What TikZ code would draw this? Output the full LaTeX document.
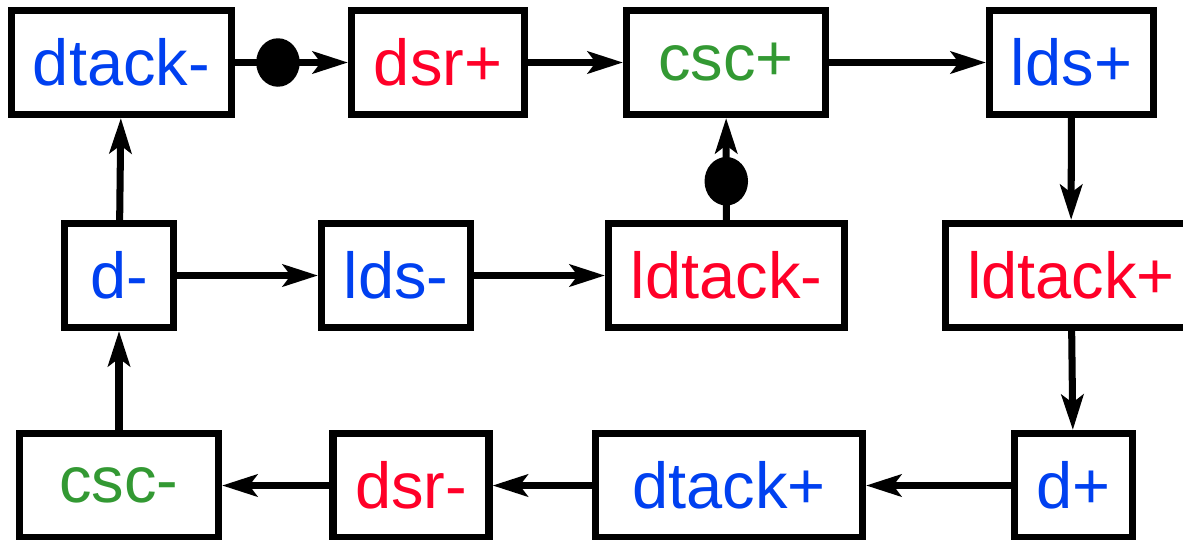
\documentclass[tikz,border=0pt]{standalone}
\usepackage{fontspec}
\setmainfont{Liberation Sans}
\usetikzlibrary{arrows.meta,shapes.geometric}
\definecolor{sigblue}{RGB}{0,64,240}
\definecolor{sigred}{RGB}{255,0,40}
\definecolor{siggreen}{RGB}{51,153,51}
\begin{document}
\begin{tikzpicture}
[x=0.02cm,y=-0.02cm,
  arrowDecorate/.style={-{Stealth[length=20pt,width=12.5pt,inset=4.5pt]},line width=4pt},%
  nodeDecorate/.style={shape=rectangle,draw,line width=4pt,fill=white,inner sep=0pt,
    minimum height=2.08cm,font=\fontsize{37}{41}\selectfont},%
  dotDecorate/.style={shape=ellipse,fill=black,inner sep=0pt,minimum width=0.87cm,minimum height=0.97cm}]
\useasboundingbox (0,0) rectangle (1183,539);
%% nodes or transitions
\foreach \nodename/\x/\y/\w/\col/\txt in {
  dtackm/121.5/62.5/220/sigblue/dtack-, dsrp/438/62.5/173/sigred/dsr+,
  cscp/726/62.5/199/siggreen/csc+, ldsp/1071.5/62.5/164/sigblue/lds+,
  dm/119/275.5/109/sigblue/d-, ldsm/396/275.5/149/sigblue/lds-,
  ldtackm/726.5/275.5/236/sigred/ldtack-, ldtackp/1071/275.5/251/sigred/ldtack+,
  cscm/119/485.5/199/siggreen/csc-, dsrm/411/485.5/156/sigred/dsr-,
  dtackp/729/485.5/267/sigblue/dtack+, dp/1073.5/485.5/118/sigblue/d+}
{
  \node (\nodename) at (\x,\y) [nodeDecorate,minimum width=\w*0.02cm,text=\col] {\txt};
}
%% edges or arcs
\path
\foreach \startnode/\endnode in {dsrp/cscp, cscp/ldsp, ldsp/ldtackp, ldtackp/dp,
  dp/dtackp, dtackp/dsrm, dsrm/cscm, cscm/dm, dm/dtackm, dm/ldsm, ldsm/ldtackm}
{
  (\startnode) edge[arrowDecorate] (\endnode)
};
%% arcs with a read dot
\path
\foreach \startnode/\endnode in {dtackm/dsrp, ldtackm/cscp}
{
  (\startnode) edge[arrowDecorate] node[pos=0.38,dotDecorate] {} (\endnode)
};
\end{tikzpicture}
\end{document}
